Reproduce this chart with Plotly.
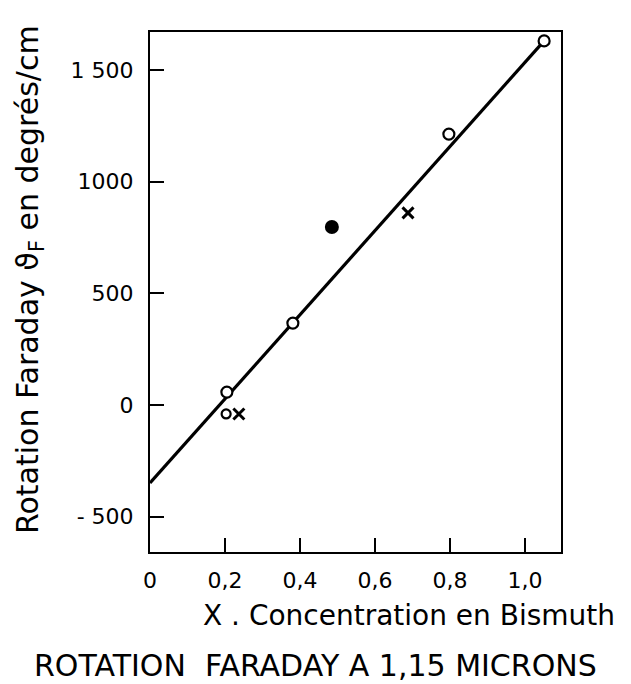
import plotly.graph_objects as go

# Data
x_open = [0.205, 0.381, 0.797, 1.051]
y_open = [58, 367, 1213, 1630]
x_filled = [0.485]
y_filled = [797]
x_cross = [0.237, 0.688]
y_cross = [-40, 860]
x_small_o = [0.203]
y_small_o = [-40]
x_fit = [0.0, 1.051]
y_fit = [-349, 1630]

x_tickvals = [0, 0.2, 0.4, 0.6, 0.8, 1.0]
x_ticktext = ["0", "0,2", "0,4", "0,6", "0,8", "1,0"]
y_tickvals = [-500, 0, 500, 1000, 1500]
y_ticktext = ["- 500", "0", "500", "1000", "1 500"]

FONT = "DejaVu Sans"

fig = go.Figure()
fig.add_trace(go.Scatter(x=x_fit, y=y_fit, mode="lines",
                         line=dict(color="black", width=3.2), showlegend=False))
fig.add_trace(go.Scatter(x=x_open, y=y_open, mode="markers",
                         marker=dict(symbol="circle", size=11, color="white",
                                     line=dict(color="black", width=2.2)),
                         showlegend=False))
fig.add_trace(go.Scatter(x=x_filled, y=y_filled, mode="markers",
                         marker=dict(symbol="circle", size=14, color="black"),
                         showlegend=False))
fig.add_trace(go.Scatter(x=x_small_o, y=y_small_o, mode="markers",
                         marker=dict(symbol="circle-open", size=9, color="black",
                                     line=dict(color="black", width=2.2)),
                         showlegend=False))
fig.add_trace(go.Scatter(x=x_cross, y=y_cross, mode="markers",
                         marker=dict(symbol="x-thin-open", size=11, color="black",
                                     line=dict(color="black", width=3)),
                         showlegend=False))

axis_common = dict(showgrid=False, zeroline=False, showline=True, mirror=True,
                   linecolor="black", linewidth=2, ticks="inside", ticklen=14,
                   tickwidth=2, tickcolor="black",
                   tickfont=dict(family=FONT, size=22, color="black"))

fig.update_xaxes(range=[0, 1.096], tickvals=x_tickvals, ticktext=x_ticktext,
                 ticklabelstandoff=8, **axis_common)
fig.update_yaxes(range=[-658, 1670], tickvals=y_tickvals, ticktext=y_ticktext,
                 ticklabelstandoff=10, **axis_common)

fig.add_annotation(text="Rotation Faraday ϑ<sub>F</sub> en degrés/cm",
                   xref="paper", yref="paper", x=0, y=0.5, xanchor="center",
                   yanchor="middle", xshift=-121, yshift=12, textangle=-90,
                   showarrow=False, font=dict(family=FONT, size=30, color="black"))
fig.add_annotation(text="X . Concentration en Bismuth",
                   xref="paper", yref="paper", x=1, y=0, xanchor="right",
                   yanchor="middle", xshift=56, yshift=-63,
                   showarrow=False, font=dict(family=FONT, size=28, color="black"))
fig.add_annotation(text="ROTATION  FARADAY A 1,15 MICRONS",
                   xref="paper", yref="paper", x=0.5, y=0, xanchor="center",
                   yanchor="middle", xshift=-40, yshift=-113,
                   showarrow=False, font=dict(family=FONT, size=30, color="black"))

fig.update_layout(width=631, height=684, plot_bgcolor="white", paper_bgcolor="white",
                  margin=dict(l=150, r=70, t=32, b=132), showlegend=False)

fig.write_html("out.html")
